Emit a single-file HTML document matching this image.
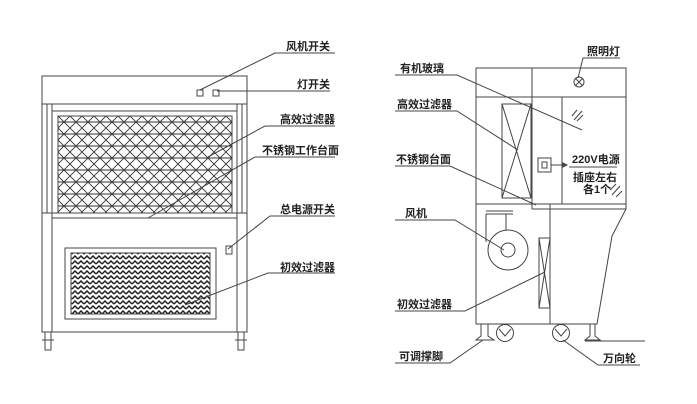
<!DOCTYPE html>
<html><head><meta charset="utf-8"><style>
body{margin:0;background:#fff}
svg{display:block}
text{font-family:"Liberation Sans","Noto Sans CJK SC",sans-serif;font-size:11px;font-weight:bold;fill:#222}
</style></head><body>
<svg width="697" height="404" viewBox="0 0 697 404" xmlns="http://www.w3.org/2000/svg">
<defs>
<pattern id="dia" width="12" height="12" patternUnits="userSpaceOnUse" x="58" y="116">
<path d="M0 0L12 12M12 0L0 12M0 6H12" stroke="#333" stroke-width="0.9" fill="none"/>
</pattern>
<pattern id="her" width="6" height="5" patternUnits="userSpaceOnUse">
<path d="M0 4L3 1L6 4" stroke="#222" stroke-width="1.5" fill="none"/>
</pattern>
</defs>
<g stroke="#444" stroke-width="1" fill="none">
<rect x="42" y="76" width="205" height="256"/>
<line x1="42" y1="104" x2="247" y2="104"/>
<line x1="47" y1="104" x2="47" y2="213"/><line x1="52" y1="104" x2="52" y2="332"/>
<line x1="237" y1="104" x2="237" y2="332"/><line x1="242" y1="104" x2="242" y2="213"/>
<line x1="52" y1="111" x2="237" y2="111"/>
<rect x="58" y="116" width="174" height="97" fill="url(#dia)"/>
<line x1="42" y1="213" x2="247" y2="213"/><line x1="52" y1="218" x2="237" y2="218"/>
<rect x="65" y="248" width="151" height="71"/>
<rect x="71" y="253" width="139" height="61" fill="url(#her)"/>
<rect x="45" y="332" width="6" height="18"/><line x1="42" y1="340" x2="54" y2="340"/>
<rect x="238" y="332" width="6" height="18"/><line x1="235" y1="340" x2="247" y2="340"/>
<rect x="197" y="90" width="6" height="6"/><rect x="213" y="90" width="6" height="6"/>
<rect x="226" y="246" width="6" height="8"/>
<polyline points="335,53 275,53 200,90"/>
<line x1="217" y1="91" x2="330" y2="91"/>
<polyline points="335,126 265,126 208,157"/>
<polyline points="335,157 255,157 148,218"/>
<polyline points="335,216 270,216 228,249"/>
<polyline points="335,273 268,273 185,305"/>
<rect x="476" y="68" width="150" height="136"/>
<line x1="476" y1="97" x2="626" y2="97"/>
<line x1="532" y1="68" x2="532" y2="209"/>
<line x1="562" y1="97" x2="562" y2="204"/>
<rect x="502" y="104" width="29" height="94"/>
<path d="M502 104L531 198M531 104L502 198"/>
<line x1="532" y1="209" x2="626" y2="209"/>
<circle cx="579" cy="82" r="5"/><path d="M575.5 78.5L582.5 85.5M582.5 78.5L575.5 85.5"/>
<rect x="538" y="158" width="13" height="14"/>
<rect x="542" y="162" width="5" height="6"/>
<line x1="551" y1="165" x2="566" y2="165"/><path d="M563 163L567 165L563 167Z" fill="#444"/>
<line x1="569" y1="167" x2="617" y2="167"/>
<path d="M572 116L577 110M574 120L582 111M577 121L583 115M610 190L616 184M612 195L620 186M616 197L622 191"/>
<rect x="476" y="204" width="74" height="120"/>
<polyline points="550,324 597,324 612,236 626,209 626,204"/>
<line x1="486" y1="211" x2="513" y2="211"/><line x1="486" y1="214" x2="513" y2="214"/>
<line x1="486" y1="214" x2="486" y2="242"/><line x1="506" y1="214" x2="506" y2="230"/>
<circle cx="508" cy="250" r="20"/><circle cx="508" cy="250" r="7"/>
<rect x="539" y="238" width="11" height="70"/>
<path d="M539 238L550 308M550 238L539 308"/>
<path d="M481 324V336L476 340H494L488 336V324"/>
<path d="M590 324V336L585 340H600L595 336V324"/>
<circle cx="505" cy="333" r="8.5"/><path d="M499 329L505 336L511 329"/>
<circle cx="561" cy="333" r="8.5"/><path d="M555 329L561 336L567 329"/>
<line x1="585" y1="341" x2="645" y2="341"/>
<polyline points="620,58 583,58 578,78"/>
<polyline points="395,75 457,75 582,130"/>
<polyline points="395,111 457,111 518,150"/>
<polyline points="395,166 450,166 536,205"/>
<polyline points="395,220 455,220 504,250"/>
<polyline points="395,311 465,311 545,272"/>
<polyline points="395,363 450,363 483,340"/>
<polyline points="640,365 598,365 563,340"/>
</g>
<g>
<text x="286" y="50">风机开关</text>
<text x="297" y="88">灯开关</text>
<text x="280" y="123">高效过滤器</text>
<text x="262" y="154">不锈钢工作台面</text>
<text x="280" y="213">总电源开关</text>
<text x="280" y="271">初效过滤器</text>
<text x="587" y="55">照明灯</text>
<text x="400" y="72">有机玻璃</text>
<text x="397" y="108">高效过滤器</text>
<text x="396" y="163">不锈钢台面</text>
<text x="405" y="217">风机</text>
<text x="397" y="308">初效过滤器</text>
<text x="399" y="360">可调撑脚</text>
<text x="603" y="362">万向轮</text>
<text x="572" y="163">220V电源</text>
<text x="573" y="181">插座左右</text>
<text x="583" y="193">各1个</text>
</g>
</svg>
</body></html>
